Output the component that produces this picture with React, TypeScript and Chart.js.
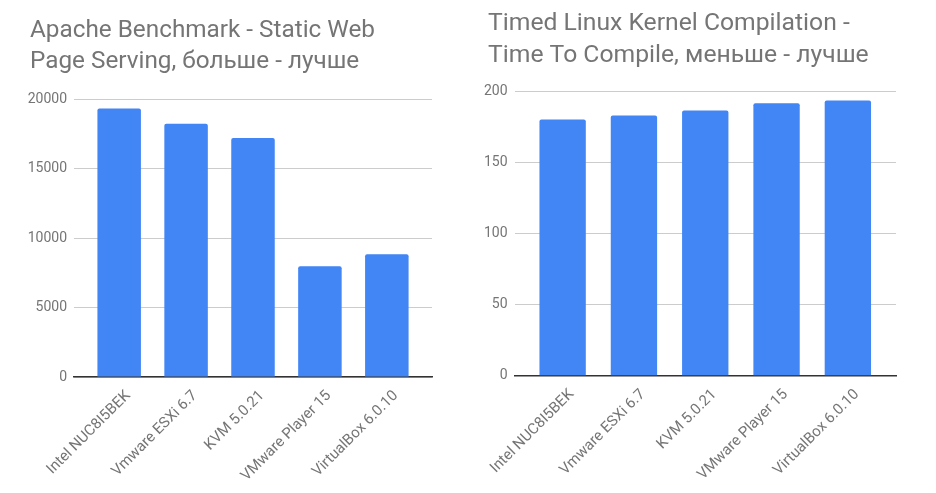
import React, { useEffect, useRef } from "react";
import { Chart, registerables } from "chart.js";

Chart.register(...registerables);

const categories = [
  "Intel NUC8I5BEK",
  "Vmware ESXi 6.7",
  "KVM 5.0.21",
  "VMware Player 15",
  "VirtualBox 6.0.10",
];

const apacheValues = [19330, 18240, 17210, 7970, 8830];
const kernelValues = [180.2, 183, 186.5, 191.6, 193.5];

const apacheTitle = ["Apache Benchmark - Static Web", "Page Serving, больше - лучше"];
const kernelTitle = ["Timed Linux Kernel Compilation -", "Time To Compile, меньше - лучше"];

const apacheTicks = { max: 20000, step: 5000 };
const kernelTicks = { max: 200, step: 50 };

type Props = {
  title: string[];
  titleSize: number;
  titleX: number;
  values: number[];
  yMax: number;
  yStep: number;
  yWidth: number;
  xHeight: number;
  pad: { left: number; right: number };
  titlePad: { top: number; bottom: number };
};

function BarPanel({ title, titleSize, titleX, values, yMax, yStep, yWidth, xHeight, pad, titlePad }: Props) {
  const ref = useRef<HTMLCanvasElement | null>(null);
  useEffect(() => {
    if (!ref.current) return;
    const chart = new Chart(ref.current, {
      type: "bar",
      data: {
        datasets: [
          {
            data: categories.map((_, i) => ({ x: i, y: values[i] })),
            backgroundColor: "#4285F4",
            borderRadius: { topLeft: 2, topRight: 2, bottomLeft: 0, bottomRight: 0 },
            borderSkipped: "bottom",
            categoryPercentage: 1,
            barPercentage: 0.65,
          },
        ],
      },
      plugins: [
        {
          id: "titleShift",
          afterLayout(c: any) {
            const t = c.titleBlock;
            if (t) {
              const dx = titleX - t.left;
              t.left += dx;
              t.right += dx;
            }
          },
        },
      ],
      options: {
        responsive: false,
        animation: false,
        layout: { padding: { left: pad.left, right: pad.right, top: 0, bottom: 0 } },
        plugins: {
          legend: { display: false },
          tooltip: { enabled: false },
          title: {
            display: true,
            text: title,
            align: "start",
            color: "#757575",
            font: { family: "Roboto", size: titleSize, weight: "normal", lineHeight: 1.3 },
            padding: { top: titlePad.top, bottom: titlePad.bottom },
          },
        },
        scales: {
          x: {
            type: "linear",
            offset: false,
            min: -0.675,
            max: 4.675,
            afterBuildTicks: (scale: any) => {
              scale.ticks = categories.map((_, i) => ({ value: i }));
            },
            afterFit: (scale: any) => {
              scale.paddingLeft = 0;
              scale.paddingRight = 0;
              scale.height = xHeight;
            },
            ticks: {
              autoSkip: false,
              maxRotation: 45,
              minRotation: 45,
              color: "#757575",
              font: { family: "Roboto", size: 15 },
              padding: 10,
              labelOffset: 9,
              callback: (v: any) => categories[v as number] ?? "",
            },
            grid: { display: false, drawTicks: false, offset: false },
            border: { display: true, color: "#333333", width: 1.5 },
          },
          y: {
            min: 0,
            max: yMax,
            afterFit: (scale: any) => {
              scale.width = yWidth;
            },
            ticks: {
              stepSize: yStep,
              color: "#757575",
              font: { family: "Roboto", size: 14 },
              padding: 7,
              callback: (v: any) => String(v),
            },
            grid: { color: "#cccccc", drawTicks: false },
            border: { display: false },
          },
        },
      },
    });
    return () => chart.destroy();
  }, []);
  return <canvas ref={ref} width={468} height={493} style={{ display: "block" }} />;
}

export default function App() {
  return (
    <div
      style={{
        position: "fixed",
        left: 0,
        top: 0,
        width: 936,
        height: 493,
        display: "flex",
        background: "#ffffff",
      }}
    >
      <BarPanel
        title={apacheTitle}
        titleSize={24.3}
        titleX={30}
        values={apacheValues}
        yMax={apacheTicks.max}
        yStep={apacheTicks.step}
        yWidth={54}
        xHeight={116}
        pad={{ left: 20, right: 36 }}
        titlePad={{ top: 15, bottom: 21 }}
      />
      <BarPanel
        title={kernelTitle}
        titleSize={24.7}
        titleX={20}
        values={kernelValues}
        yMax={kernelTicks.max}
        yStep={kernelTicks.step}
        yWidth={36.5}
        xHeight={117.3}
        pad={{ left: 10, right: 40 }}
        titlePad={{ top: 8, bottom: 19 }}
      />
    </div>
  );
}
